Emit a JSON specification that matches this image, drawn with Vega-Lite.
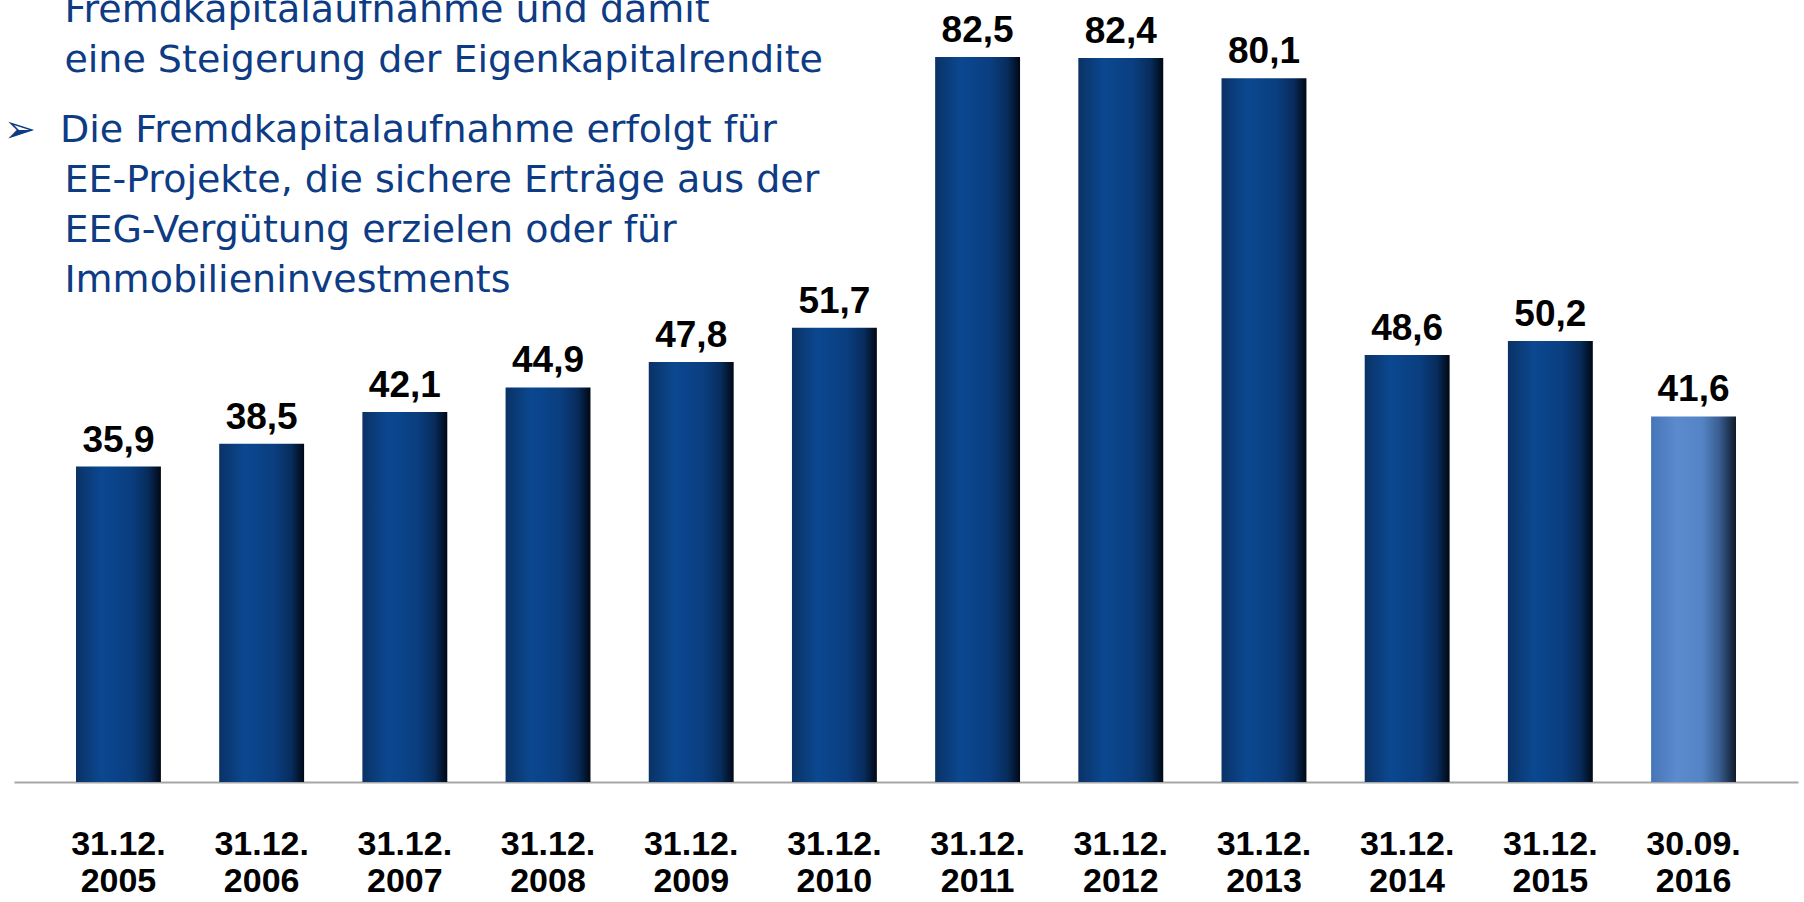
{
  "$schema": "https://vega.github.io/schema/vega-lite/v6.json",
  "width": 1784,
  "height": 782,
  "autosize": {"type": "none"},
  "padding": {"left": 14, "top": 0, "right": 6, "bottom": 120},
  "background": "white",
  "config": {
    "view": {"stroke": null},
    "locale": {"number": {"decimal": ",", "thousands": ".", "grouping": [3], "currency": ["", " €"]}}
  },
  "title": {
    "text": ["\u200b\u00a0\u00a0\u00a0\u00a0\u00a0Fremdkapitalaufnahme und damit", "\u200b\u00a0\u00a0\u00a0\u00a0\u00a0eine Steigerung der Eigenkapitalrendite"],
    "subtitle": ["\u27a2\u00a0\u00a0Die Fremdkapitalaufnahme erfolgt für", "\u200b\u00a0\u00a0\u00a0\u00a0\u00a0EE-Projekte, die sichere Erträge aus der", "\u200b\u00a0\u00a0\u00a0\u00a0\u00a0EEG-Vergütung erzielen oder für", "\u200b\u00a0\u00a0\u00a0\u00a0\u00a0Immobilieninvestments"],
    "anchor": "start",
    "orient": "top",
    "frame": "group",
    "offset": -300,
    "dx": -10,
    "font": "DejaVu Sans",
    "fontSize": 38,
    "fontWeight": "normal",
    "color": "#0d3b84",
    "lineHeight": 50,
    "subtitleFont": "DejaVu Sans",
    "subtitleFontSize": 38,
    "subtitleColor": "#0d3b84",
    "subtitleLineHeight": 50,
    "subtitlePadding": 32
  },
  "data": {
    "values": [
      {"date": "31.12. 2005", "value": 35.9, "type": "year"},
      {"date": "31.12. 2006", "value": 38.5, "type": "year"},
      {"date": "31.12. 2007", "value": 42.1, "type": "year"},
      {"date": "31.12. 2008", "value": 44.9, "type": "year"},
      {"date": "31.12. 2009", "value": 47.8, "type": "year"},
      {"date": "31.12. 2010", "value": 51.7, "type": "year"},
      {"date": "31.12. 2011", "value": 82.5, "type": "year"},
      {"date": "31.12. 2012", "value": 82.4, "type": "year"},
      {"date": "31.12. 2013", "value": 80.1, "type": "year"},
      {"date": "31.12. 2014", "value": 48.6, "type": "year"},
      {"date": "31.12. 2015", "value": 50.2, "type": "year"},
      {"date": "30.09. 2016", "value": 41.6, "type": "q3"}
    ]
  },
  "encoding": {
    "x": {
      "field": "date",
      "type": "nominal",
      "sort": null,
      "scale": {"paddingInner": 0.407, "paddingOuter": 0.433},
      "axis": {
        "title": null,
        "labelAngle": 0,
        "labelExpr": "split(datum.label, ' ')",
        "labelFont": "Liberation Sans",
        "labelFontWeight": "bold",
        "labelFontSize": 34,
        "labelLineHeight": 37,
        "labelColor": "black",
        "labelBaseline": "top",
        "labelPadding": 45,
        "ticks": false,
        "domainColor": "#a6a6a6",
        "domainWidth": 2
      }
    },
    "y": {
      "field": "value",
      "type": "quantitative",
      "scale": {"domain": [0, 89], "nice": false},
      "axis": null
    }
  },
  "layer": [
    {
      "mark": {"type": "bar"},
      "encoding": {
        "fill": {
          "condition": {
            "test": "datum.type === 'q3'",
            "value": {
              "gradient": "linear", "x1": 0, "x2": 1, "y1": 0, "y2": 0,
              "stops": [
                {"offset": 0, "color": "#4676b8"},
                {"offset": 0.3, "color": "#5b8bce"},
                {"offset": 0.6, "color": "#5584c6"},
                {"offset": 0.8, "color": "#3a5f92"},
                {"offset": 1, "color": "#0f1a2a"}
              ]
            }
          },
          "value": {
            "gradient": "linear", "x1": 0, "x2": 1, "y1": 0, "y2": 0,
            "stops": [
              {"offset": 0, "color": "#0a3266"},
              {"offset": 0.3, "color": "#0b4890"},
              {"offset": 0.65, "color": "#0a3e80"},
              {"offset": 0.85, "color": "#082c5c"},
              {"offset": 1, "color": "#000814"}
            ]
          }
        }
      }
    },
    {
      "mark": {
        "type": "text",
        "baseline": "alphabetic",
        "dy": -15,
        "font": "Liberation Sans",
        "fontWeight": "bold",
        "fontSize": 37,
        "color": "black"
      },
      "encoding": {
        "text": {"field": "value", "type": "quantitative", "format": ".1f"}
      }
    }
  ]
}
